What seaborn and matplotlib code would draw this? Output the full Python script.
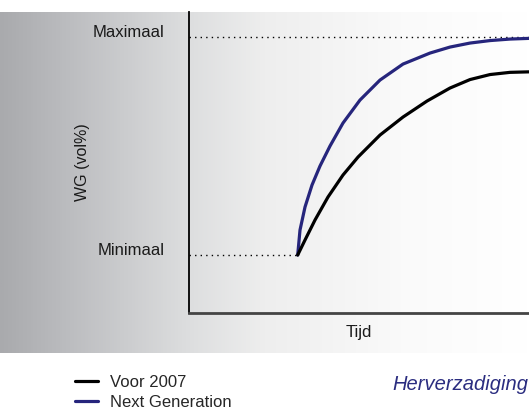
import numpy as np
import pandas as pd
import matplotlib
matplotlib.use('Agg')  # no display
import matplotlib.pyplot as plt
from matplotlib.colors import LinearSegmentedColormap
import seaborn as sns

# values
# Tijd = % of axis width, WG = % between Minimaal (0) and Maximaal (100)
tijd_next = [31.97, 32.65, 34.12, 36.18, 38.53, 41.47, 45.29, 50.29, 56.18, 62.94, 70.88, 76.76, 82.65, 88.53, 94.41, 100]
wg_next = [0, 11.47, 22.02, 32.11, 40.83, 50.0, 60.55, 71.10, 80.28, 87.61, 92.66, 95.41, 97.25, 98.39, 99.08, 99.4]
tijd_voor = [31.97, 34.12, 37.06, 40.88, 45.29, 49.71, 56.18, 62.94, 70.0, 76.76, 82.65, 88.53, 94.41, 100]
wg_voor = [0, 6.88, 16.06, 26.61, 36.70, 44.95, 55.05, 63.30, 70.64, 76.61, 80.50, 82.80, 83.81, 84.04]
series = ['Voor 2007', 'Next Generation']
niveau_labels = ['Minimaal', 'Maximaal']
niveau_waarden = [0, 100]

sns.set_theme(style='white')
plt.rcParams['font.family'] = ['Liberation Sans', 'DejaVu Sans']

navy = '#26257c'
kleuren = {'Voor 2007': 'black', 'Next Generation': navy}

df = pd.concat([
    pd.DataFrame({'Tijd': tijd_voor, 'WG': wg_voor, 'serie': series[0]}),
    pd.DataFrame({'Tijd': tijd_next, 'WG': wg_next, 'serie': series[1]}),
], ignore_index=True)

fig = plt.figure(figsize=(5.29, 4.13), dpi=100)

# grey gradient panel behind the chart
bg = fig.add_axes([0, 1 - 353 / 413, 1, 341 / 413], zorder=0)
cmap = LinearSegmentedColormap.from_list('grijs', [
    (0.0, '#a9aaad'), (0.11, '#b9babd'), (0.357, '#dddedf'),
    (0.5, '#eeeeee'), (0.76, '#fafafa'), (1.0, '#ffffff')])
grad = np.linspace(0, 1, 512).reshape(1, -1)
bg.imshow(grad, aspect='auto', cmap=cmap, extent=[0, 1, 0, 1])
bg.axis('off')

ax = fig.add_axes([189 / 529, 1 - 313 / 413, 340 / 529, 301 / 413], zorder=1)
ax.patch.set_alpha(0)

# dotted guide lines for min / max
ax.plot([0, 100], [niveau_waarden[1]] * 2, color='black', lw=1.0, ls=(0, (1, 3)))
ax.plot([0, tijd_next[0]], [niveau_waarden[0]] * 2, color='black', lw=1.0, ls=(0, (1, 3)))

sns.lineplot(data=df, x='Tijd', y='WG', hue='serie', hue_order=[series[1], series[0]],
             palette=kleuren, linewidth=2.3, estimator=None, sort=False, ax=ax)

ax.set_xlim(0, 100)
ax.set_ylim(-26.6, 111.5)
ax.set_xticks([])
ax.set_yticks([])
sns.despine(ax=ax, top=True, right=True)
ax.spines['left'].set_color('black')
ax.spines['left'].set_linewidth(1.3)
ax.spines['bottom'].set_color('#444444')
ax.spines['bottom'].set_linewidth(2)

for lab, val in zip(niveau_labels, niveau_waarden):
    ax.text(-0.072, val, lab, transform=ax.get_yaxis_transform(), ha='right', va='baseline',
            fontsize=12, color='#1a1a1a')

ax.set_xlabel('Tijd', fontsize=12, labelpad=9, color='#1a1a1a')
ax.set_ylabel('WG (vol%)', fontsize=11.5, color='#1a1a1a')
ax.yaxis.set_label_coords(-0.29, 0.5)

# legend below the panel, Voor 2007 first
handles, labels = ax.get_legend_handles_labels()
hmap = dict(zip(labels, handles))
ax.legend([hmap[s] for s in series], series, loc='upper left',
          bbox_to_anchor=(75 / 529, 1 - 375 / 413), bbox_transform=fig.transFigure,
          frameon=False, fontsize=12, handlelength=1.4, handletextpad=0.7,
          labelspacing=0.3, borderpad=0, borderaxespad=0)

fig.text(0.999, 1 - 390 / 413, 'Herverzadiging', ha='right', va='baseline',
         fontsize=14.5, style='italic', color='#2b2d80')

plt.savefig('out.png', dpi=100)
